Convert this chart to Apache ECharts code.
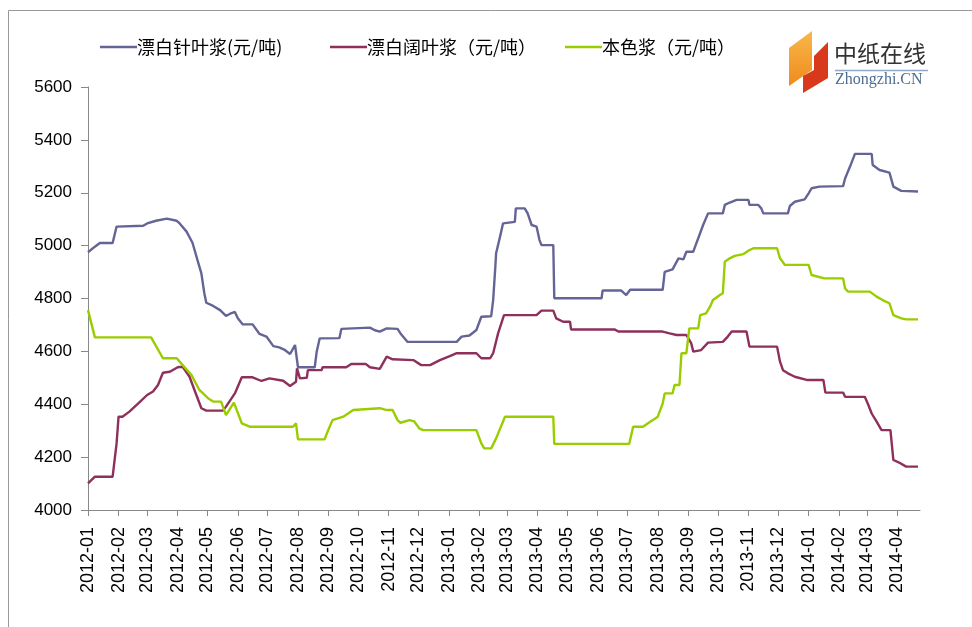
<!DOCTYPE html>
<html>
<head>
<meta charset="utf-8">
<script src="https://cdn.jsdelivr.net/npm/echarts@6/dist/echarts.min.js"></script>
<style>html,body{margin:0;padding:0;background:#fff}#c{width:972px;height:627px}</style>
</head>
<body>
<div id="c"></div>
<script>
// ---- data ----
var seriesNames = ['漂白针叶浆(元/吨)', '漂白阔叶浆（元/吨）', '本色浆（元/吨）'];
var axisStart = '2012-01-01';
var axisEnd = '2014-04-24';
var yTicks = [4000, 4200, 4400, 4600, 4800, 5000, 5200, 5400, 5600];

var softwood = [
 ['2012-01-01',4975],['2012-01-08',4996],['2012-01-13',5010],['2012-01-26',5010],['2012-01-30',5072],
 ['2012-02-26',5075],['2012-03-01',5084],['2012-03-10',5094],['2012-03-21',5102],['2012-03-31',5094],
 ['2012-04-03',5084],['2012-04-10',5053],['2012-04-16',5011],['2012-04-21',4946],['2012-04-25',4895],
 ['2012-04-28',4820],['2012-04-30',4784],['2012-05-07',4772],['2012-05-14',4756],['2012-05-20',4734],
 ['2012-05-25',4744],['2012-05-29',4749],['2012-06-01',4725],['2012-06-06',4702],['2012-06-16',4702],
 ['2012-06-23',4666],['2012-06-30',4656],['2012-07-07',4620],['2012-07-13',4615],['2012-07-18',4607],
 ['2012-07-24',4590],['2012-07-29',4624],['2012-07-31',4625],['2012-08-01',4540],['2012-08-18',4540],
 ['2012-08-20',4599],['2012-08-23',4649],['2012-09-12',4650],['2012-09-14',4685],['2012-10-13',4690],
 ['2012-10-18',4680],['2012-10-23',4675],['2012-10-30',4687],['2012-11-10',4685],['2012-11-13',4668],
 ['2012-11-20',4636],['2013-01-09',4636],['2013-01-14',4656],['2013-01-22',4660],['2013-01-29',4681],
 ['2013-02-03',4731],['2013-02-13',4733],['2013-02-15',4794],['2013-02-17',4908],['2013-02-18',4971],
 ['2013-02-22',5034],['2013-02-25',5084],['2013-03-09',5090],['2013-03-10',5141],['2013-03-19',5141],
 ['2013-03-22',5122],['2013-03-26',5078],['2013-03-31',5072],['2013-04-03',5021],['2013-04-05',5002],
 ['2013-04-17',5002],['2013-04-18',4801],['2013-06-05',4801],['2013-06-06',4830],['2013-06-25',4830],
 ['2013-06-30',4813],['2013-07-04',4833],['2013-08-06',4833],['2013-08-08',4901],['2013-08-16',4910],
 ['2013-08-22',4952],['2013-08-27',4948],['2013-08-30',4977],['2013-09-06',4977],['2013-09-16',5078],
 ['2013-09-21',5122],['2013-10-06',5122],['2013-10-08',5154],['2013-10-13',5163],['2013-10-20',5173],
 ['2013-11-01',5173],['2013-11-02',5154],['2013-11-11',5154],['2013-11-14',5141],['2013-11-16',5122],
 ['2013-12-11',5122],['2013-12-13',5150],['2013-12-18',5166],['2013-12-28',5175],['2014-01-01',5198],
 ['2014-01-04',5217],['2014-01-12',5223],['2014-02-05',5225],['2014-02-07',5254],['2014-02-12',5299],
 ['2014-02-17',5347],['2014-03-06',5347],['2014-03-07',5305],['2014-03-14',5286],['2014-03-24',5276],
 ['2014-03-28',5223],['2014-04-05',5207],['2014-04-22',5205]
];

var hardwood = [
 ['2012-01-01',4101],['2012-01-08',4126],['2012-01-26',4126],['2012-01-30',4252],['2012-02-01',4353],
 ['2012-02-05',4353],['2012-02-12',4372],['2012-02-21',4403],['2012-03-01',4435],['2012-03-07',4448],
 ['2012-03-12',4473],['2012-03-17',4519],['2012-03-24',4523],['2012-04-01',4540],['2012-04-06',4542],
 ['2012-04-13',4504],['2012-04-18',4454],['2012-04-25',4385],['2012-04-30',4376],['2012-05-17',4376],
 ['2012-05-20',4391],['2012-05-29',4441],['2012-06-05',4502],['2012-06-16',4502],['2012-06-25',4488],
 ['2012-07-03',4498],['2012-07-17',4489],['2012-07-24',4469],['2012-07-30',4485],['2012-07-31',4536],
 ['2012-08-03',4498],['2012-08-10',4500],['2012-08-11',4529],['2012-08-25',4529],['2012-08-26',4540],
 ['2012-09-19',4540],['2012-09-24',4552],['2012-10-09',4552],['2012-10-13',4540],['2012-10-23',4534],
 ['2012-10-30',4580],['2012-11-05',4570],['2012-11-26',4567],['2012-12-04',4548],['2012-12-13',4548],
 ['2012-12-23',4567],['2013-01-02',4582],['2013-01-09',4593],['2013-01-29',4593],['2013-02-03',4574],
 ['2013-02-12',4574],['2013-02-15',4593],['2013-02-20',4668],['2013-02-26',4737],['2013-03-31',4737],
 ['2013-04-05',4754],['2013-04-17',4754],['2013-04-20',4725],['2013-04-27',4712],['2013-05-04',4712],
 ['2013-05-05',4683],['2013-06-18',4683],['2013-06-22',4675],['2013-08-06',4675],['2013-08-13',4668],
 ['2013-08-20',4662],['2013-08-30',4662],['2013-09-04',4630],['2013-09-06',4599],['2013-09-14',4605],
 ['2013-09-21',4633],['2013-10-06',4636],['2013-10-11',4656],['2013-10-15',4675],['2013-10-30',4675],
 ['2013-11-02',4618],['2013-11-30',4618],['2013-12-03',4561],['2013-12-06',4529],['2013-12-11',4517],
 ['2013-12-18',4504],['2013-12-30',4492],['2014-01-16',4492],['2014-01-18',4444],['2014-02-05',4444],
 ['2014-02-07',4428],['2014-02-27',4428],['2014-03-02',4403],['2014-03-06',4365],['2014-03-11',4334],
 ['2014-03-16',4302],['2014-03-25',4302],['2014-03-28',4189],['2014-04-04',4177],['2014-04-10',4164],
 ['2014-04-22',4164]
];

var unbleached = [
 ['2012-01-01',4756],['2012-01-08',4653],['2012-03-05',4653],['2012-03-17',4574],['2012-03-31',4574],
 ['2012-04-06',4548],['2012-04-15',4510],['2012-04-23',4454],['2012-05-02',4422],['2012-05-07',4410],
 ['2012-05-15',4410],['2012-05-20',4359],['2012-05-28',4406],['2012-06-05',4328],['2012-06-13',4315],
 ['2012-07-27',4315],['2012-07-30',4328],['2012-08-01',4267],['2012-08-28',4267],['2012-08-31',4296],
 ['2012-09-05',4340],['2012-09-16',4353],['2012-09-26',4378],['2012-10-23',4385],['2012-10-30',4378],
 ['2012-11-05',4378],['2012-11-10',4340],['2012-11-13',4330],['2012-11-22',4340],['2012-11-27',4335],
 ['2012-12-02',4309],['2012-12-06',4302],['2013-01-29',4302],['2013-02-03',4252],['2013-02-06',4233],
 ['2013-02-13',4233],['2013-02-18',4271],['2013-02-27',4353],['2013-04-17',4353],['2013-04-18',4250],
 ['2013-07-03',4250],['2013-07-07',4315],['2013-07-17',4315],['2013-07-21',4325],['2013-07-27',4340],
 ['2013-08-01',4353],['2013-08-06',4403],['2013-08-08',4441],['2013-08-16',4441],['2013-08-18',4473],
 ['2013-08-23',4473],['2013-08-25',4593],['2013-08-30',4593],['2013-09-02',4687],['2013-09-11',4687],
 ['2013-09-13',4737],['2013-09-19',4744],['2013-09-23',4769],['2013-09-26',4794],['2013-10-03',4813],
 ['2013-10-06',4820],['2013-10-08',4939],['2013-10-13',4952],['2013-10-18',4961],['2013-10-27',4968],
 ['2013-11-02',4983],['2013-11-06',4990],['2013-11-30',4990],['2013-12-03',4952],['2013-12-08',4927],
 ['2014-01-01',4927],['2014-01-04',4889],['2014-01-17',4876],['2014-02-05',4876],['2014-02-07',4838],
 ['2014-02-10',4826],['2014-03-04',4826],['2014-03-11',4807],['2014-03-17',4794],['2014-03-24',4782],
 ['2014-03-28',4737],['2014-04-05',4725],['2014-04-10',4721],['2014-04-22',4721]
];

var colors = ['#646496', '#8e2f5c', '#9acd00'];

// daily categories for the date axis
function pad(n){return n<10?'0'+n:''+n;}
var categories = [];
(function(){
  var d = new Date(axisStart + 'T00:00:00Z');
  var end = new Date(axisEnd + 'T00:00:00Z');
  while (d <= end) {
    categories.push(d.getUTCFullYear() + '-' + pad(d.getUTCMonth()+1) + '-' + pad(d.getUTCDate()));
    d = new Date(d.getTime() + 86400000);
  }
})();
function isMonthStart(i, v){ return v.slice(8) === '01'; }

var chart = echarts.init(document.getElementById('c'), null, {renderer:'canvas'});
var font = 'Liberation Sans, Arial, sans-serif';
var cjk = 'Noto Sans CJK SC, sans-serif';

function legend(i, left){
  return {
    data: [seriesNames[i]], left: left, top: 38, itemWidth: 37, itemHeight: 2.5, padding: 0,
    icon: 'rect', selectedMode: false,
    textStyle: {fontFamily: cjk, fontSize: 18, lineHeight: 18, color: '#000', padding: [0,0,0,-5]}
  };
}

chart.setOption({
  animation: false,
  color: colors,
  grid: {left: 88, right: 52, top: 87, bottom: 117},
  legend: [legend(0, 100), legend(1, 330), legend(2, 565)],
  xAxis: {
    type: 'category', data: categories, boundaryGap: false,
    axisLine: {lineStyle: {color: '#888', width: 1}},
    axisTick: {show: true, interval: isMonthStart, length: 6, lineStyle: {color: '#888'}},
    axisLabel: {interval: isMonthStart, rotate: 90, margin: 17, fontFamily: font, fontSize: 18, color: '#000',
      formatter: function(v){ return v.slice(0,7); }},
    splitLine: {show: false}
  },
  yAxis: {
    type: 'value', min: yTicks[0], max: yTicks[yTicks.length-1], interval: 200,
    axisLine: {show: true, lineStyle: {color: '#888', width: 1}},
    axisTick: {show: true, length: 7, lineStyle: {color: '#888'}},
    axisLabel: {margin: 16, fontFamily: font, fontSize: 17, color: '#000',
      formatter: function(v){ return String(v); }},
    splitLine: {show: false}
  },
  series: [
    {name: seriesNames[0], type: 'line', data: softwood, symbol: 'none', lineStyle: {width: 2.4, color: colors[0]}, itemStyle:{color: colors[0]}},
    {name: seriesNames[1], type: 'line', data: hardwood, symbol: 'none', lineStyle: {width: 2.4, color: colors[1]}, itemStyle:{color: colors[1]}},
    {name: seriesNames[2], type: 'line', data: unbleached, symbol: 'none', lineStyle: {width: 2.4, color: colors[2]}, itemStyle:{color: colors[2]}}
  ],
  graphic: [
    {type: 'rect', shape: {x: 8.5, y: 10.5, width: 1000, height: 700}, style: {fill: 'none', stroke: '#999', lineWidth: 1}, silent: true},
    {type: 'polygon', shape: {points: [[789,48],[812,31],[812,70],[789,86]]},
      style: {fill: new echarts.graphic.LinearGradient(0,0,0,1,[{offset:0,color:'#f8b84a'},{offset:1,color:'#f08a1c'}])}},
    {type: 'polygon', shape: {points: [[814,56],[828,42],[828,78],[803,93],[803,76],[814,70]]},
      style: {fill: '#d8381c'}},
    {type: 'text', left: 834, top: 42, style: {text: '中纸在线', font: '23px Noto Sans CJK SC', fill: '#333'}},
    {type: 'line', shape: {x1: 835, y1: 70.5, x2: 928, y2: 70.5}, style: {stroke: '#8fa8c8', lineWidth: 1.5}},
    {type: 'text', left: 835, top: 72, style: {text: 'Zhongzhi.CN', font: '16px Liberation Serif', fill: '#4d6d8f'}}
  ]
});
</script>
</body>
</html>
